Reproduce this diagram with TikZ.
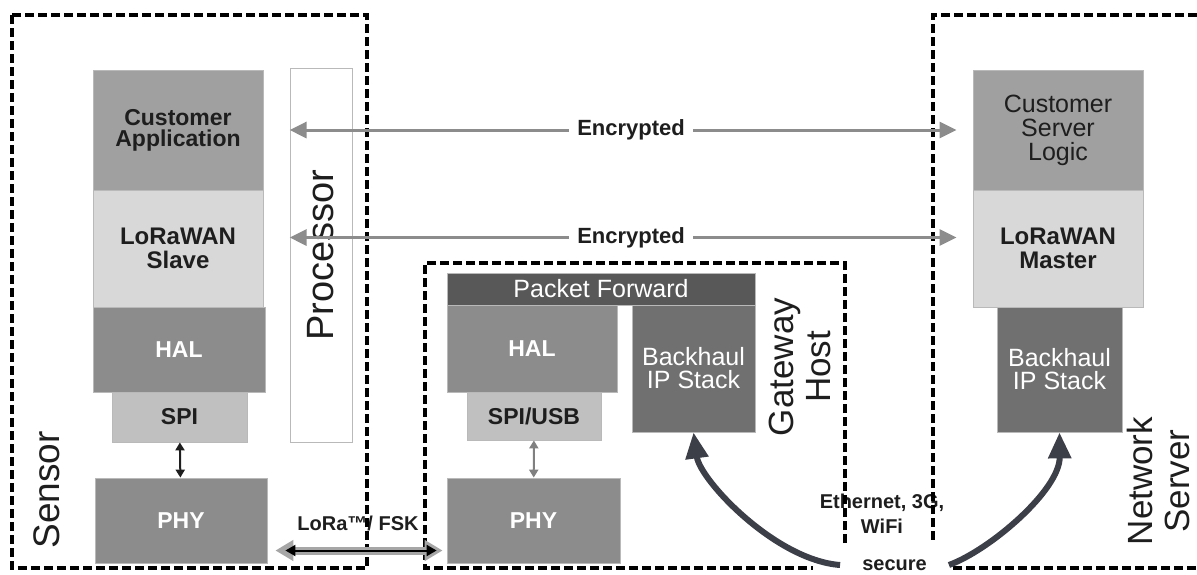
\documentclass[tikz,border=0pt]{standalone}
\usepackage{fontspec}
\setmainfont{Liberation Sans}
\usetikzlibrary{arrows.meta}

\definecolor{appgray}{RGB}{160,160,160}
\definecolor{macgray}{RGB}{216,216,216}
\definecolor{halgray}{RGB}{140,140,140}
\definecolor{spigray}{RGB}{192,192,192}
\definecolor{fwdgray}{RGB}{88,88,88}
\definecolor{bhgray}{RGB}{112,112,112}
\definecolor{encgray}{RGB}{140,140,140}
\definecolor{netblue}{RGB}{60,62,72}
\definecolor{ink}{RGB}{30,30,30}

\newcommand{\fsz}[2]{\fontsize{#1}{#2}\selectfont}

\begin{document}
\begin{tikzpicture}[x=1pt,y=-1pt,
    layer/.style ={draw=gray!55, line width=0.8pt, inner sep=0pt, align=center, text=ink},
    darklayer/.style ={layer, text=white},
    zone/.style ={draw=black, line width=3.3pt, dash pattern=on 9pt off 4pt},
    biglabel/.style ={rotate=90, align=center, text=ink, font=\fsz{35}{37}},
    enc/.style ={draw=encgray, line width=3pt,
        {Triangle[length=17pt,width=16pt]}-{Triangle[length=17pt,width=16pt]}},
    enclabel/.style ={fill=white, inner xsep=8pt, text=ink, font=\bfseries\fsz{22}{22}},
    link/.style ={line width=6pt, draw=netblue, -{Triangle[length=26pt,width=22pt]}},
    bus/.style ={line width=2pt, {Triangle[length=8pt,width=9pt]}-{Triangle[length=8pt,width=9pt]}}]
   \useasboundingbox (0,0) rectangle (1197,574);

   % sensor stack
   \node[layer, fill=appgray, minimum width=170pt, minimum height=120pt, font=\bfseries\fsz{23}{21}]
        (capp) at (178,130) {Customer\\Application};
   \node[layer, fill=macgray, minimum width=170pt, minimum height=117pt, font=\bfseries\fsz{24}{24}]
        (slave) at (178,248.5) {LoRaWAN\\Slave};
   \node[darklayer, fill=halgray, minimum width=172pt, minimum height=85pt, font=\bfseries\fsz{23}{23}]
        (hals) at (179,349.5) {HAL};
   \node[layer, fill=spigray, minimum width=135pt, minimum height=50pt, font=\bfseries\fsz{23}{23}]
        (spis) at (179.5,417) {SPI};
   \node[darklayer, fill=halgray, minimum width=172pt, minimum height=85pt, font=\bfseries\fsz{23}{23}]
        (phys) at (181,520.5) {PHY};
   \node[layer, fill=white, rotate=90, minimum width=374pt, minimum height=62pt, font=\fsz{38}{38}]
        (proc) at (321,255) {Processor};
   \node[biglabel, font=\fsz{37}{37}] (sensor) at (47,490) {Sensor};

   % gateway stack
   \node[darklayer, fill=fwdgray, minimum width=308pt, minimum height=32pt, font=\fsz{25}{25}]
        (pfwd) at (601,289) {Packet Forward};
   \node[darklayer, fill=halgray, minimum width=170pt, minimum height=87pt, font=\bfseries\fsz{23}{23}]
        (halg) at (532,348.5) {HAL};
   \node[darklayer, fill=bhgray, minimum width=123pt, minimum height=127pt, font=\fsz{25}{23}]
        (bhg) at (693.5,368.5) {Backhaul\\IP Stack};
   \node[layer, fill=spigray, minimum width=134pt, minimum height=48pt, font=\bfseries\fsz{23}{23}]
        (spig) at (534,416) {SPI/USB};
   \node[darklayer, fill=halgray, minimum width=173pt, minimum height=85pt, font=\bfseries\fsz{23}{23}]
        (phyg) at (533.5,520.5) {PHY};
   \node[biglabel] (gwhost) at (800,367) {Gateway\\Host};

   % network server stack
   \node[layer, fill=appgray, minimum width=170pt, minimum height=120pt, font=\fsz{25}{24}]
        (csl) at (1058,130) {Customer\\Server\\Logic};
   \node[layer, fill=macgray, minimum width=170pt, minimum height=117pt, font=\bfseries\fsz{24}{24}]
        (master) at (1058,248.5) {LoRaWAN\\Master};
   \node[darklayer, fill=bhgray, minimum width=125pt, minimum height=125pt, font=\fsz{25}{23}]
        (bhn) at (1059.5,369.5) {Backhaul\\IP Stack};
   \node[biglabel] (netsrv) at (1158,481) {Network\\Server};

   % backhaul labels
   \node[align=center, text=ink, font=\bfseries\fsz{20}{25}] (ether) at (882,514) {Ethernet, 3G,\\WiFi};
   \node[inner xsep=22pt, inner ysep=2pt, text=ink, font=\bfseries\fsz{20}{20}] (secure) at (894.5,565) {secure};
   \node[text=ink, font=\bfseries\fsz{20}{20}] (lora) at (358,523) {LoRa™/ FSK};

   % dashed zones
   \draw[zone] (12,15) rectangle (367,568);
   \draw[zone] (845,543) -- (845,263) -- (425,263) -- (425,568) -- (813,568);
   \draw[zone] (1197,15) -- (933,15) -- (933,543);
   \draw[zone] (953,568) -- (1197,568);

   % end to end
   \draw[enc, shorten >=16pt] (capp -| proc.north) -- node[enclabel] {Encrypted} (csl.west);
   \draw[enc, shorten >=16pt] ([yshift=11pt]slave.east -| proc.north) -- node[enclabel] {Encrypted} ([yshift=11pt]master.west);

   % local buses
   \draw[bus, draw=ink] (spis) -- (phys);
   \draw[bus, draw=gray] (spig) -- (phyg);
   \draw[line width=8pt, draw=gray!70, {Triangle[length=18pt,width=20pt]}-{Triangle[length=18pt,width=20pt]},
        shorten <=8pt, shorten >=4pt] ([yshift=-30pt]phys.east) -- ([yshift=-30pt]phyg.west);
   \draw[line width=2pt, draw=black, {Triangle[length=10pt,width=11pt]}-{Triangle[length=10pt,width=11pt]},
        shorten <=18pt, shorten >=10pt] ([yshift=-30pt]phys.east) -- ([yshift=-30pt]phyg.west);

   % backhaul links
   \draw[link] (secure.west) .. controls (775,560) and (700,480) .. (bhg.south);
   \draw[link] (secure.east) .. controls (990,550) and (1060,490) .. (bhn.south);
\end{tikzpicture}
\end{document}
